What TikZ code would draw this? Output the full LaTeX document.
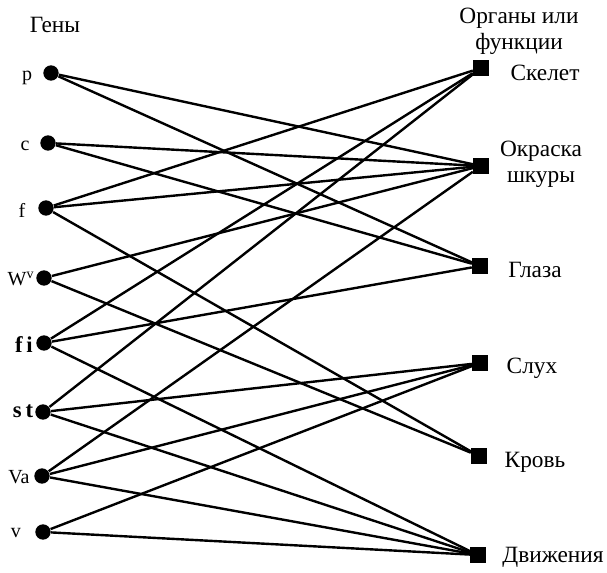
\documentclass[tikz,border=0pt]{standalone}
\usepackage{fontspec}
\setmainfont{Liberation Serif}

\tikzset{every picture/.style={line width=0.75pt}}
\tikzset{
  gene/.style={circle,fill=black,inner sep=0pt,minimum size=11.5pt},
  organ/.style={rectangle,fill=black,inner sep=0pt,minimum width=11.5pt,minimum height=12.5pt},
  genetxt/.style={inner sep=0.75pt,font=\fontsize{15}{17}\selectfont},
  organtxt/.style={inner sep=0.75pt,align=center,font=\fontsize{17.5}{19.5}\selectfont},
  link/.style={line width=1.8pt}
}

\begin{document}
\begin{tikzpicture}[x=0.75pt,y=0.75pt,yscale=-1,xscale=1]
	\useasboundingbox (0,0) rectangle (607,573);

	%Genes
	\node[gene] (p) at (51,73) {};
	\node[gene] (c) at (48,143) {};
	\node[gene] (f) at (46,208) {};
	\node[gene] (Wv) at (44,278) {};
	\node[gene] (fi) at (44,343) {};
	\node[gene] (st) at (43,412) {};
	\node[gene] (Va) at (42,476) {};
	\node[gene] (v) at (43,532) {};

	%Organs
	\node[organ] (skel) at (481,68) {};
	\node[organ] (okr) at (481,166) {};
	\node[organ] (gl) at (480,266) {};
	\node[organ] (sl) at (480,363) {};
	\node[organ] (krov) at (479,456) {};
	\node[organ] (dv) at (478,555) {};

	%Gene -> organ
	\foreach \g/\o in {p/okr,p/gl,c/okr,c/gl,f/skel,f/okr,f/krov,Wv/okr,Wv/krov,
	                   fi/skel,fi/gl,fi/dv,st/skel,st/sl,st/dv,Va/okr,Va/sl,Va/dv,v/sl,v/dv}
	  \draw[link] (\g) -- (\o);

	%Labels
	\node[organtxt] (genes-t) at (55,25) {Гены};
	\node[organtxt] (organs-t) at (519,31) {Органы или\\функции};
	\node[genetxt] (p-t) at (27,78) {p};
	\node[genetxt] (c-t) at (25,146) {c};
	\node[genetxt] (f-t) at (22,210) {f};
	\node[genetxt] (Wv-t) at (21,279) {W\textsuperscript{v}};
	\node[genetxt,font=\fontsize{17}{19}\selectfont\bfseries] (fi-t) at (24,345) {f\,i};
	\node[genetxt,font=\fontsize{17}{19}\selectfont\bfseries] (st-t) at (23,411) {s\,t};
	\node[genetxt] (Va-t) at (19,477) {Va};
	\node[genetxt] (v-t) at (16,533) {v};

	\node[organtxt] (skel-t) at (545,73) {Скелет};
	\node[organtxt] (okr-t) at (541,164) {Окраска\\шкуры};
	\node[organtxt] (gl-t) at (535,270) {Глаза};
	\node[organtxt] (sl-t) at (532,368) {Слух};
	\node[organtxt] (krov-t) at (535,462) {Кровь};
	\node[organtxt] (dv-t) at (553,557) {Движения};
\end{tikzpicture}
\end{document}
